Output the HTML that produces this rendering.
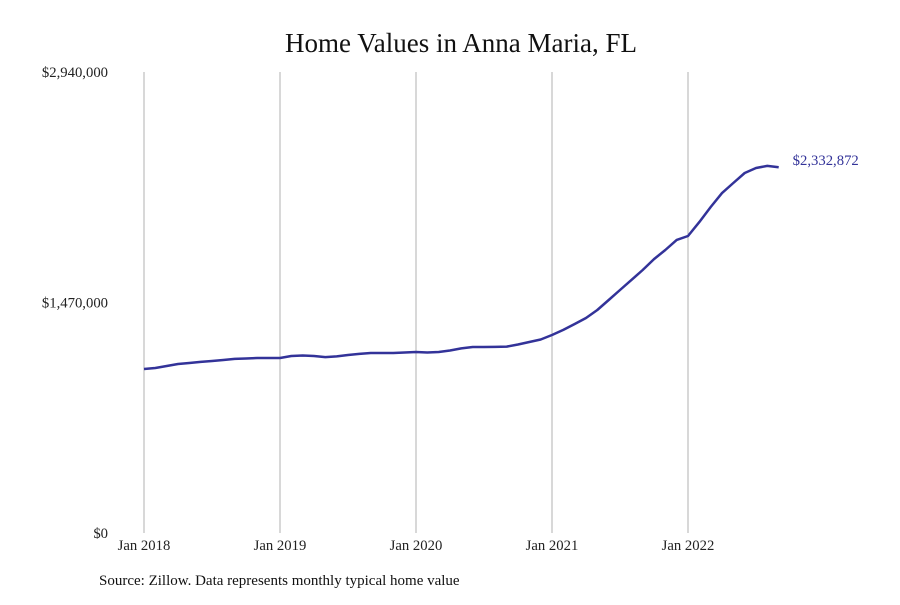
<!DOCTYPE html>
<html><head><meta charset="utf-8"><style>
html,body{margin:0;padding:0;background:#fff;}
svg text{font-family:"Liberation Serif",serif;}
</style></head><body>
<svg id="chart" width="900" height="600" xmlns="http://www.w3.org/2000/svg">
<text x="461" y="52" text-anchor="middle" font-size="27" fill="#111">Home Values in Anna Maria, FL</text>
<g id="grid"></g>
<g id="yaxis"></g>
<g id="xaxis"></g>
<path id="line" fill="none" stroke="#333399" stroke-width="2.5" stroke-linejoin="round"></path>
<text id="endlabel" font-size="14.7" fill="#333399"></text>
<text x="99" y="585" font-size="15" fill="#111">Source: Zillow. Data represents monthly typical home value</text>
</svg>
<script>
const startYear = 2018;
const values = [1046,1052,1065,1078,1084,1091,1097,1103,1110,1113,1116,1116,
1116,1129,1132,1129,1122,1126,1135,1142,1148,1148,1148,1151,
1154,1151,1154,1164,1177,1186,1186,1187,1189,1202,1218,1234,
1263,1295,1333,1371,1422,1486,1550,1613,1677,1747,1805,1869,
1894,1983,2079,2168,2232,2296,2328,2341,2332.872];
const yTicks = [0,1470000,2940000];
const yTickLabels = ["$0","$1,470,000","$2,940,000"];
const xTickLabels = ["Jan 2018","Jan 2019","Jan 2020","Jan 2021","Jan 2022"];
const lastLabel = "$2,332,872";

const NS="http://www.w3.org/2000/svg";
const x0=144, pxPerMonth=136/12, yTop=72, yBot=533, yMax=2940000;
const xs=i=>x0+i*pxPerMonth;
const ys=v=>yBot-v/yMax*(yBot-yTop);
function mk(tag,attrs,parent,text){const e=document.createElementNS(NS,tag);for(const k in attrs)e.setAttribute(k,attrs[k]);if(text!==undefined)e.textContent=text;parent.appendChild(e);return e;}
const grid=document.getElementById('grid'),xa=document.getElementById('xaxis'),ya=document.getElementById('yaxis');
xTickLabels.forEach((l,i)=>{
  const x=xs(i*12);
  const g=mk('line',{x1:x,x2:x,y1:yTop,y2:yBot,stroke:'#b0b0b0','stroke-width':1},grid);
  
  
  const t=mk('text',{x:x,y:550,'text-anchor':'middle','font-size':14.7,fill:'#222'},xa,l);
  
  
});
yTicks.forEach((v,i)=>{
  const t=mk('text',{x:108,y:ys(v)+5,'text-anchor':'end','font-size':14.7,fill:'#222'},ya,yTickLabels[i]);
  
  
});
document.getElementById('line').setAttribute('d',values.map((v,i)=>(i?'L':'M')+xs(i).toFixed(1)+','+ys(v*1000).toFixed(1)).join(''));
const n=values.length-1, el=document.getElementById('endlabel');
el.setAttribute('x',xs(n)+14);el.setAttribute('y',ys(values[n]*1000)-2);el.textContent=lastLabel;
</script>
</body></html>
